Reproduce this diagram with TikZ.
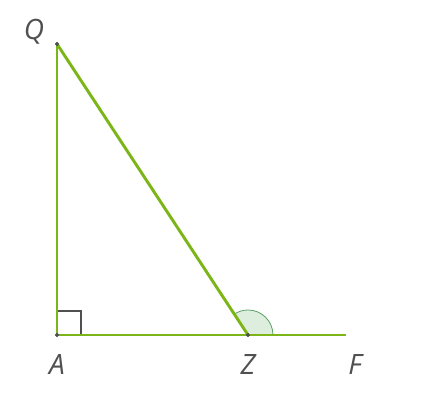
\documentclass[tikz,border=0pt]{standalone}
\usepackage{fontspec}
\setmainfont{Open Sans}
\usepackage{tikz}

\definecolor{sidegreen}{RGB}{124,181,24}
\definecolor{arcgreen}{RGB}{90,160,100}
\definecolor{arcfill}{RGB}{222,238,222}
\definecolor{labelgray}{RGB}{80,80,80}

\begin{document}
\begin{tikzpicture}[x=0.75pt, y=0.75pt,
  side/.style={sidegreen, line width=2.2pt},
  vlabel/.style={text=labelgray, font=\fontsize{21}{24}\selectfont\itshape}]
\useasboundingbox (0,0) rectangle (422,402);
\coordinate (Q) at (57,358);
\coordinate (A) at (57,67);
\coordinate (Z) at (248,67);
\coordinate (F) at (346,67);
% exterior angle at Z
\filldraw[arcfill, draw=arcgreen, line width=0.6pt] (Z) -- ++(0:25) arc[start angle=0, end angle=123.3, radius=25] -- cycle;
% right angle at A
\draw[labelgray, line width=0.8pt] ([xshift=18]A) |- ([yshift=18]A);
\draw[side] (Q) -- (A) -- (F);
\draw[side] (Q) -- (Z);
\filldraw[labelgray] (Q) circle (1.8);
\filldraw[labelgray] (A) circle (1.8);
\filldraw[labelgray] (Z) circle (1.8);
\node[vlabel] (lQ) at (34,370) {Q};
\node[vlabel] (lA) at (57,37) {A};
\node[vlabel] (lZ) at (248,37) {Z};
\node[vlabel] (lF) at (355,37) {F};
\end{tikzpicture}
\end{document}
